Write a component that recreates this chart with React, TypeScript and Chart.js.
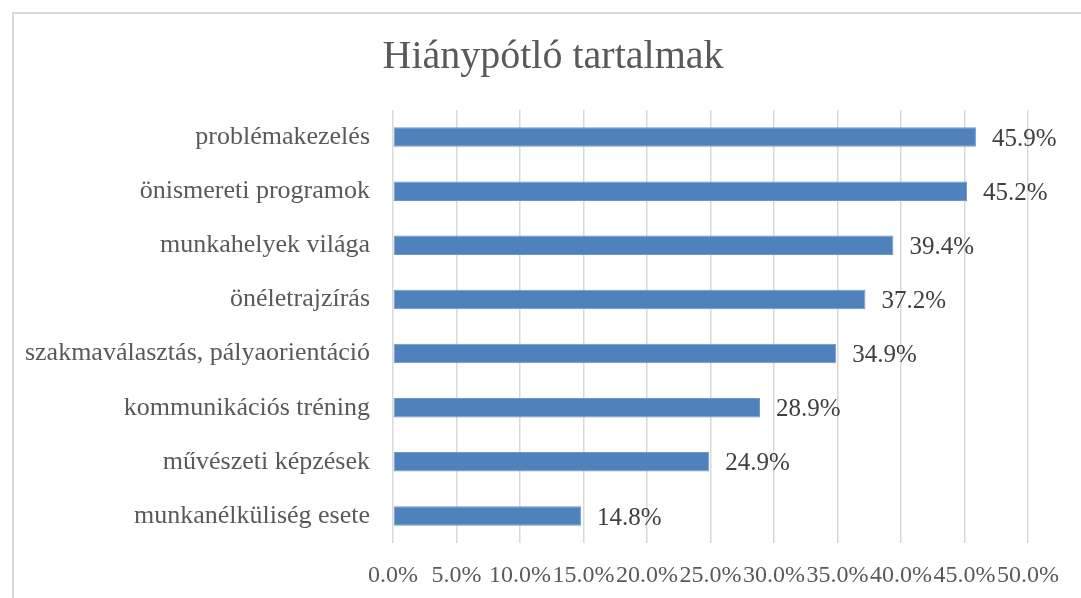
import React, { useEffect, useRef } from "react";
import { Chart, registerables } from "chart.js";

Chart.register(...registerables);

const title = "Hiánypótló tartalmak";
const categories = [
  "problémakezelés",
  "önismereti programok",
  "munkahelyek világa",
  "önéletrajzírás",
  "szakmaválasztás, pályaorientáció",
  "kommunikációs tréning",
  "művészeti képzések",
  "munkanélküliség esete",
];
const values = [45.9, 45.2, 39.4, 37.2, 34.9, 28.9, 24.9, 14.8];
const axisMin = 0;
const axisMax = 50;
const axisStep = 5;

const FONT = "'Liberation Serif', 'DejaVu Serif', serif";

const dataLabelPlugin = {
  id: "dataLabels",
  afterDatasetsDraw(chart: any) {
    const ctx = chart.ctx;
    const meta = chart.getDatasetMeta(0);
    ctx.save();
    ctx.font = `25px ${FONT}`;
    ctx.fillStyle = "#404040";
    ctx.textAlign = "left";
    ctx.textBaseline = "middle";
    meta.data.forEach((bar: any, i: number) => {
      const v = chart.data.datasets[0].data[i] as number;
      ctx.fillText(v.toFixed(1) + "%", bar.x + 16, bar.y + 2);
    });
    ctx.restore();
  },
};

const titlePlugin = {
  id: "centeredTitle",
  afterDraw(chart: any) {
    const ctx = chart.ctx;
    ctx.save();
    ctx.font = `40px ${FONT}`;
    ctx.fillStyle = "#595959";
    ctx.textAlign = "center";
    ctx.textBaseline = "alphabetic";
    ctx.fillText(title, chart.width / 2, 54);
    ctx.restore();
  },
};

export default function App() {
  const canvasRef = useRef<HTMLCanvasElement | null>(null);

  useEffect(() => {
    if (!canvasRef.current) return;
    const chart = new Chart(canvasRef.current, {
      type: "bar",
      data: {
        labels: categories,
        datasets: [
          {
            data: values,
            backgroundColor: "#4F81BD",
            borderColor: "#6E97CC",
            borderWidth: 1,
            borderSkipped: false,
            barPercentage: 0.36,
            categoryPercentage: 1,
          },
        ],
      },
      options: {
        indexAxis: "y",
        animation: false,
        responsive: false,
        maintainAspectRatio: false,
        layout: { padding: { left: 0, right: 64, top: 96, bottom: 0 } },
        plugins: {
          legend: { display: false },
          tooltip: { enabled: false },
          title: { display: false },
        },
        scales: {
          x: {
            min: axisMin,
            max: axisMax,
            ticks: {
              stepSize: axisStep,
              autoSkip: false,
              maxRotation: 0,
              minRotation: 0,
              color: "#595959",
              font: { family: FONT, size: 24 },
              padding: 18,
              callback: (v: any) => Number(v).toFixed(1) + "%",
            },
            grid: { color: "#d9d9d9", lineWidth: 1.5, drawTicks: false },
            border: { display: false },
            afterFit: (s: any) => {
              s.height = 55;
            },
          },
          y: {
            ticks: {
              color: "#595959",
              font: { family: FONT, size: 26 },
              padding: 23,
            },
            grid: { display: false, drawTicks: false },
            border: { display: false },
            afterFit: (s: any) => {
              s.width = 379;
            },
          },
        },
      },
      plugins: [dataLabelPlugin, titlePlugin],
    });
    return () => chart.destroy();
  }, []);

  return (
    <div
      style={{
        position: "fixed",
        left: 0,
        top: 0,
        width: 1081,
        height: 598,
        overflow: "hidden",
        background: "#ffffff",
      }}
    >
      <div
        style={{
          position: "absolute",
          left: 12,
          top: 12,
          width: 1078,
          height: 600,
          border: "2px solid #d9d9d9",
          background: "#ffffff",
        }}
      >
        <canvas ref={canvasRef} width={1078} height={584} style={{ display: "block" }} />
      </div>
    </div>
  );
}
